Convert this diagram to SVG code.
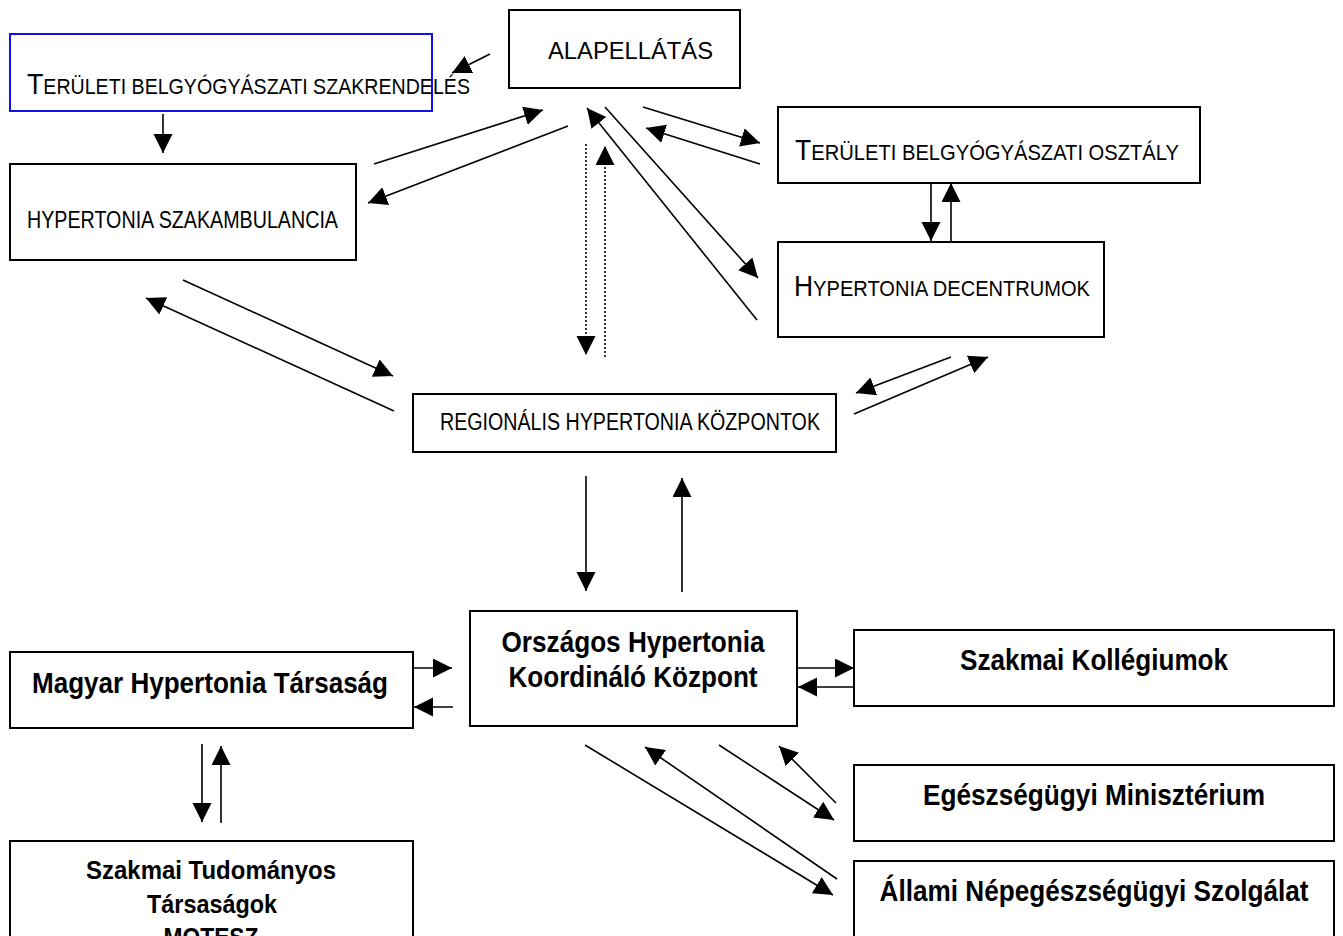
<svg xmlns="http://www.w3.org/2000/svg" width="1343" height="936" viewBox="0 0 1343 936">
<style>
.box{fill:#fff;stroke:#000;stroke-width:2}
.blue{fill:none;stroke:#1010f0;stroke-width:2}
.t{font-family:"Liberation Sans",Arial,sans-serif;fill:#000}
.b{font-family:"Liberation Sans",Arial,sans-serif;font-weight:bold;fill:#000}
.c line{stroke:#000;stroke-width:1.6;fill:none;marker-end:url(#ah)}
.c line.dot{stroke-dasharray:2,2}
</style>
<defs>
<marker id="ah" markerUnits="userSpaceOnUse" markerWidth="20" markerHeight="20" refX="19" refY="9.5" orient="auto" viewBox="0 0 20 20">
<path d="M0,0 L19,9.5 L0,19 z" fill="#000"/>
</marker>
</defs>
<rect width="1343" height="936" fill="#fff"/>

<g id="n-szakrendeles">
<rect class="blue" x="10" y="34" width="422" height="77"/>
<text class="t" x="27" y="94" textLength="443" lengthAdjust="spacingAndGlyphs"><tspan font-size="30">T</tspan><tspan font-size="22">ERÜLETI BELGYÓGYÁSZATI SZAKRENDELÉS</tspan></text>
</g>
<g id="n-alapellatas">
<rect class="box" x="509" y="10" width="231" height="78"/>
<text class="t" x="548" y="59" font-size="24" textLength="165" lengthAdjust="spacingAndGlyphs">ALAPELLÁTÁS</text>
</g>
<g id="n-szakambulancia">
<rect class="box" x="10" y="164" width="346" height="96"/>
<text class="t" x="27" y="228" font-size="24" textLength="311" lengthAdjust="spacingAndGlyphs">HYPERTONIA SZAKAMBULANCIA</text>
</g>
<g id="n-osztaly">
<rect class="box" x="778" y="107" width="422" height="76"/>
<text class="t" x="795" y="160" textLength="384" lengthAdjust="spacingAndGlyphs"><tspan font-size="29">T</tspan><tspan font-size="22">ERÜLETI  BELGYÓGYÁSZATI  OSZTÁLY</tspan></text>
</g>
<g id="n-decentrumok">
<rect class="box" x="778" y="242" width="326" height="95"/>
<text class="t" x="794" y="296" textLength="296" lengthAdjust="spacingAndGlyphs"><tspan font-size="29">H</tspan><tspan font-size="22">YPERTONIA  DECENTRUMOK</tspan></text>
</g>
<g id="n-regionalis">
<rect class="box" x="413" y="394" width="423" height="58"/>
<text class="t" x="440" y="430" font-size="23" textLength="380" lengthAdjust="spacingAndGlyphs">REGIONÁLIS HYPERTONIA KÖZPONTOK</text>
</g>
<g id="n-orszagos">
<rect class="box" x="470" y="611" width="327" height="115"/>
<text class="b" x="633" y="652" font-size="30" text-anchor="middle" textLength="263" lengthAdjust="spacingAndGlyphs">Országos Hypertonia</text>
<text class="b" x="633" y="687" font-size="30" text-anchor="middle" textLength="249" lengthAdjust="spacingAndGlyphs">Koordináló Központ</text>
</g>
<g id="n-magyar">
<rect class="box" x="10" y="652" width="403" height="76"/>
<text class="b" x="210" y="693" font-size="30" text-anchor="middle" textLength="356" lengthAdjust="spacingAndGlyphs">Magyar Hypertonia Társaság</text>
</g>
<g id="n-kollegiumok">
<rect class="box" x="854" y="630" width="480" height="76"/>
<text class="b" x="1094" y="670" font-size="30" text-anchor="middle" textLength="268" lengthAdjust="spacingAndGlyphs">Szakmai Kollégiumok</text>
</g>
<g id="n-miniszterium">
<rect class="box" x="854" y="765" width="480" height="76"/>
<text class="b" x="1094" y="805" font-size="30" text-anchor="middle" textLength="342" lengthAdjust="spacingAndGlyphs">Egészségügyi Minisztérium</text>
</g>
<g id="n-ansz">
<path class="box" d="M854,936 V861 H1334 V936"/>
<text class="b" x="1094" y="901" font-size="30" text-anchor="middle" textLength="429" lengthAdjust="spacingAndGlyphs">Állami Népegészségügyi Szolgálat</text>
</g>
<g id="n-tudomanyos">
<path class="box" d="M10,936 V841 H413 V936"/>
<text class="b" x="211" y="879" font-size="26" text-anchor="middle" textLength="250" lengthAdjust="spacingAndGlyphs">Szakmai Tudományos</text>
<text class="b" x="212" y="913" font-size="26" text-anchor="middle" textLength="130" lengthAdjust="spacingAndGlyphs">Társaságok</text>
<text class="b" x="211" y="946" font-size="26" text-anchor="middle" textLength="95" lengthAdjust="spacingAndGlyphs">MOTESZ</text>
</g>

<g id="connectors" class="c">
<line x1="490" y1="54" x2="452" y2="73"/>
<line x1="163" y1="114" x2="163" y2="153"/>
<line x1="374" y1="164" x2="543" y2="110"/>
<line x1="568" y1="126" x2="368" y2="203"/>
<line x1="605" y1="107" x2="758" y2="278"/>
<line x1="757" y1="320" x2="587" y2="108"/>
<line x1="643" y1="107" x2="760" y2="143"/>
<line x1="760" y1="164" x2="646" y2="128"/>
<line class="dot" x1="586" y1="144" x2="586" y2="355"/>
<line class="dot" x1="605" y1="357" x2="605" y2="146"/>
<line x1="931" y1="183" x2="931" y2="241"/>
<line x1="951" y1="241" x2="951" y2="183"/>
<line x1="183" y1="280" x2="393" y2="376"/>
<line x1="394" y1="411" x2="146" y2="298"/>
<line x1="951" y1="357" x2="856" y2="393"/>
<line x1="854" y1="414" x2="988" y2="357"/>
<line x1="586" y1="476" x2="586" y2="591"/>
<line x1="682" y1="592" x2="682" y2="478"/>
<line x1="413" y1="668" x2="452" y2="668"/>
<line x1="453" y1="707" x2="414" y2="707"/>
<line x1="797" y1="668" x2="854" y2="668"/>
<line x1="854" y1="687" x2="798" y2="687"/>
<line x1="202" y1="744" x2="202" y2="822"/>
<line x1="221" y1="823" x2="221" y2="746"/>
<line x1="719" y1="745" x2="834" y2="820"/>
<line x1="836" y1="803" x2="779" y2="746"/>
<line x1="585" y1="745" x2="833" y2="895"/>
<line x1="837" y1="879" x2="645" y2="747"/>
</g>
</svg>
